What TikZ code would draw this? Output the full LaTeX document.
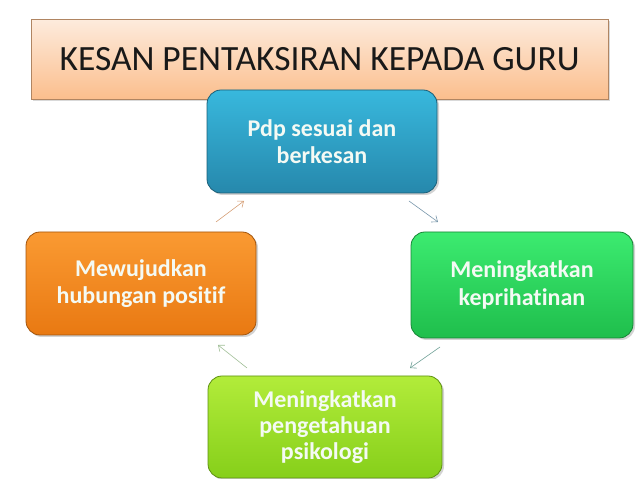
\documentclass[tikz,border=0pt]{standalone}
\usepackage{fontspec}
\setmainfont[Ligatures=NoCommon]{Carlito}
\usetikzlibrary{shadows,arrows.meta}
\definecolor{ttop}{HTML}{FDEBDD}
\definecolor{tbot}{HTML}{FBBE8C}
\definecolor{btop}{HTML}{38B8DD}
\definecolor{bbot}{HTML}{2688AC}
\definecolor{gtop}{HTML}{3CEB70}
\definecolor{gbot}{HTML}{1FBE4C}
\definecolor{otop}{HTML}{FA9A32}
\definecolor{obot}{HTML}{E97912}
\definecolor{ltop}{HTML}{B2EC3A}
\definecolor{lbot}{HTML}{86CF1A}
\definecolor{txt}{HTML}{F4FAF4}
\tikzset{
  x=1pt,y=1pt,
  card/.style={rounded corners=14pt, draw=#1!70!black, line width=0.8pt,
    drop shadow={shadow xshift=2pt,shadow yshift=-2pt,opacity=0.35},
    text=txt, font=\bfseries\fontsize{24}{27.5}\selectfont, align=center, inner sep=0pt},
  flow/.style={-{Straight Barb[length=5pt,width=8pt]}, line width=0.6pt}
}
\begin{document}
\begin{tikzpicture}
\useasboundingbox (0,0) rectangle (638,479);
% title
\node[draw=tbot!70!black, line width=0.6pt, top color=ttop, bottom color=tbot,
  drop shadow={shadow xshift=2pt,shadow yshift=-2pt,opacity=0.3},
  minimum width=577pt, minimum height=80pt, inner sep=0pt,
  font=\fontsize{35.5}{40}\selectfont, text=black!90] (title) at (319.5,419.5) {KESAN PENTAKSIRAN KEPADA GURU};
% boxes
\node[card=bbot, top color=btop, bottom color=bbot, minimum width=230pt, minimum height=103pt] (top) at (322,337.5) {Pdp sesuai dan\\berkesan};
\node[card=gbot, top color=gtop, bottom color=gbot, minimum width=222pt, minimum height=106pt] (right) at (522,194) {Meningkatkan\\keprihatinan};
\node[card=obot, top color=otop, bottom color=obot, minimum width=230pt, minimum height=103pt] (left) at (141,195.5) {Mewujudkan\\hubungan positif};
\node[card=lbot, top color=ltop, bottom color=lbot, minimum width=234pt, minimum height=102pt, font=\bfseries\fontsize{24}{26}\selectfont] (bottom) at (325,52) {Meningkatkan\\pengetahuan\\psikologi};
% arrows
\coordinate (a1s) at (216,257); \coordinate (a1e) at (244,278);
\coordinate (a2s) at (409,278); \coordinate (a2e) at (438,257);
\coordinate (a3s) at (440,132); \coordinate (a3e) at (410,111);
\coordinate (a4s) at (247,111); \coordinate (a4e) at (218,134);
\draw[flow, draw={rgb,255:red,214;green,160;blue,120}] (a1s) -- (a1e);
\draw[flow, draw={rgb,255:red,120;green,150;blue,170}] (a2s) -- (a2e);
\draw[flow, draw={rgb,255:red,110;green,160;blue,150}] (a3s) -- (a3e);
\draw[flow, draw={rgb,255:red,160;green,190;blue,150}] (a4s) -- (a4e);
\end{tikzpicture}
\end{document}
